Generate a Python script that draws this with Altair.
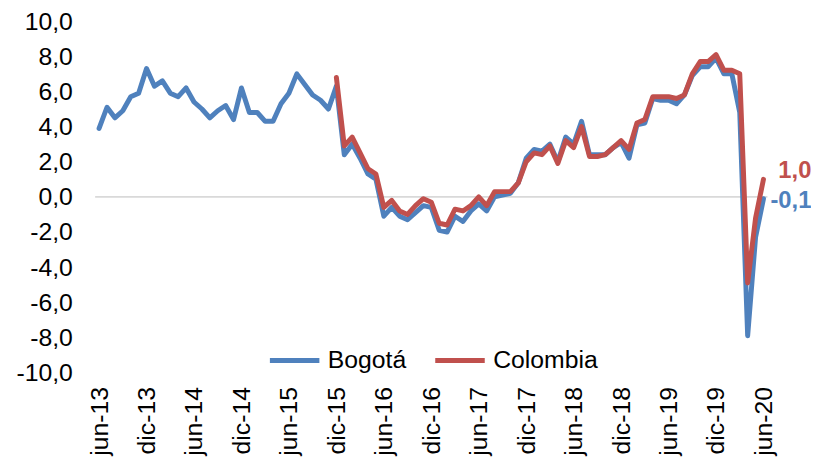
import json
import altair as alt
import pandas as pd

# ---- data ----
tick_labels = ["jun-13", "dic-13", "jun-14", "dic-14", "jun-15", "dic-15", "jun-16",
               "dic-16", "jun-17", "dic-17", "jun-18", "dic-18", "jun-19", "dic-19", "jun-20"]

# monthly, jun-13 .. jun-20 (85 months)
bogota = [3.9, 5.1, 4.5, 4.9, 5.7, 5.9,
          7.3, 6.3, 6.6, 5.9, 5.7, 6.2,
          5.4, 5.0, 4.5, 4.9, 5.2, 4.4,
          6.2, 4.8, 4.8, 4.3, 4.3, 5.3,
          5.9, 7.0, 6.4, 5.8, 5.5, 5.0,
          6.3, 2.4, 3.0, 2.2, 1.3, 1.0,
          -1.1, -0.6, -1.1, -1.3, -0.9, -0.5,
          -0.6, -1.9, -2.0, -1.1, -1.4, -0.8,
          -0.4, -0.8, 0.0, 0.1, 0.2, 0.8,
          2.2, 2.7, 2.6, 3.0, 2.0, 3.4,
          3.0, 4.3, 2.4, 2.4, 2.4, 2.8,
          3.1, 2.2, 4.1, 4.2, 5.6, 5.5,
          5.5, 5.3, 5.8, 6.9, 7.4, 7.4,
          7.9, 7.0, 7.0, 4.8, -7.9, -2.3,
          -0.1]

# monthly, dic-15 .. jun-20
colombia_start = 30
colombia = [6.8, 2.9, 3.4, 2.5, 1.6, 1.3,
            -0.6, -0.2, -0.8, -1.0, -0.5, -0.1,
            -0.3, -1.5, -1.6, -0.7, -0.8, -0.5,
            0.0, -0.5, 0.3, 0.3, 0.3, 0.8,
            2.0, 2.5, 2.4, 2.9, 1.9, 3.2,
            2.8, 4.0, 2.3, 2.3, 2.4, 2.8,
            3.2, 2.7, 4.2, 4.4, 5.7, 5.7,
            5.7, 5.6, 5.8, 7.0, 7.7, 7.7,
            8.1, 7.2, 7.2, 7.0, -4.9, -1.2,
            1.0]

series_names = ["Bogotá", "Colombia"]
series_colors = ["#4F81BD", "#C0504D"]
y_ticks = [-10, -8, -6, -4, -2, 0, 2, 4, 6, 8, 10]

# ---- tables ----
rows = [{"idx": i, "value": v, "serie": "Bogotá"} for i, v in enumerate(bogota)]
rows += [{"idx": colombia_start + j, "value": v, "serie": "Colombia"} for j, v in enumerate(colombia)]
df = pd.DataFrame(rows)

def fmt(v):
    return f"{v:.1f}".replace(".", ",")

end_b = pd.DataFrame([{"idx": len(bogota) - 1, "value": bogota[-1], "label": fmt(bogota[-1])}])
end_c = pd.DataFrame([{"idx": colombia_start + len(colombia) - 1, "value": colombia[-1], "label": fmt(colombia[-1])}])
zero = pd.DataFrame({"idx": [0], "value": [0]})

FONT = "Liberation Sans"
n = len(bogota)
xscale = alt.Scale(domain=[-0.5, n - 0.5], nice=False, zero=False)
yscale = alt.Scale(domain=[-10, 10], nice=False, zero=False)

label_expr_x = json.dumps(tick_labels).replace('"', "'") + "[round(datum.value/6)]"
label_expr_y = "replace((datum.value < 0 ? '-' : '') + format(abs(datum.value), '.1f'), '.', ',')"

X = alt.X("idx:Q", scale=xscale, title=None,
          axis=alt.Axis(values=list(range(0, n, 6)), labelExpr=label_expr_x,
                        labelAngle=270, labelAlign="right", labelBaseline="middle",
                        labelFontSize=25, labelFont=FONT, labelColor="#000000",
                        labelPadding=14, ticks=False, tickSize=0, domain=False, grid=False))
Y = alt.Y("value:Q", scale=yscale, title=None,
          axis=alt.Axis(values=y_ticks, labelExpr=label_expr_y, labelFontSize=25,
                        labelFont=FONT, labelColor="#000000", labelPadding=23,
                        ticks=False, tickSize=0, domain=False, grid=False))

rule = alt.Chart(zero).mark_rule(color="#D9D9D9", strokeWidth=2).encode(y=Y)

lines = alt.Chart(df).mark_line(strokeWidth=5, strokeCap="round", strokeJoin="round").encode(
    x=X,
    y=Y,
    color=alt.Color("serie:N", scale=alt.Scale(domain=series_names, range=series_colors),
                    legend=alt.Legend(orient="none", legendX=174, legendY=315,
                                      direction="horizontal", title=None,
                                      symbolType="stroke", symbolStrokeWidth=5,
                                      symbolSize=2500, labelFontSize=25, labelFont=FONT,
                                      labelColor="#000000", labelOffset=6,
                                      columnPadding=18, padding=0)),
    order=alt.Order("idx:Q"),
)

txt_c = alt.Chart(end_c).mark_text(align="left", baseline="middle", dx=15, dy=-8,
                                   fontSize=24, fontWeight="bold", font=FONT,
                                   color=series_colors[1]).encode(x=X, y=Y, text="label:N")
txt_b = alt.Chart(end_b).mark_text(align="left", baseline="middle", dx=7, dy=2,
                                   fontSize=24, fontWeight="bold", font=FONT,
                                   color=series_colors[0]).encode(x=X, y=Y, text="label:N")

chart = alt.layer(rule, lines, txt_c, txt_b).properties(
    width=679, height=355,
    autosize=alt.AutoSizeParams(type="none"),
    padding={"left": 88, "top": 11, "right": 44, "bottom": 89},
    background="white",
).configure(font=FONT).configure_view(stroke=None)

chart.save("out.html", embed_options={"renderer": "svg", "actions": False})
